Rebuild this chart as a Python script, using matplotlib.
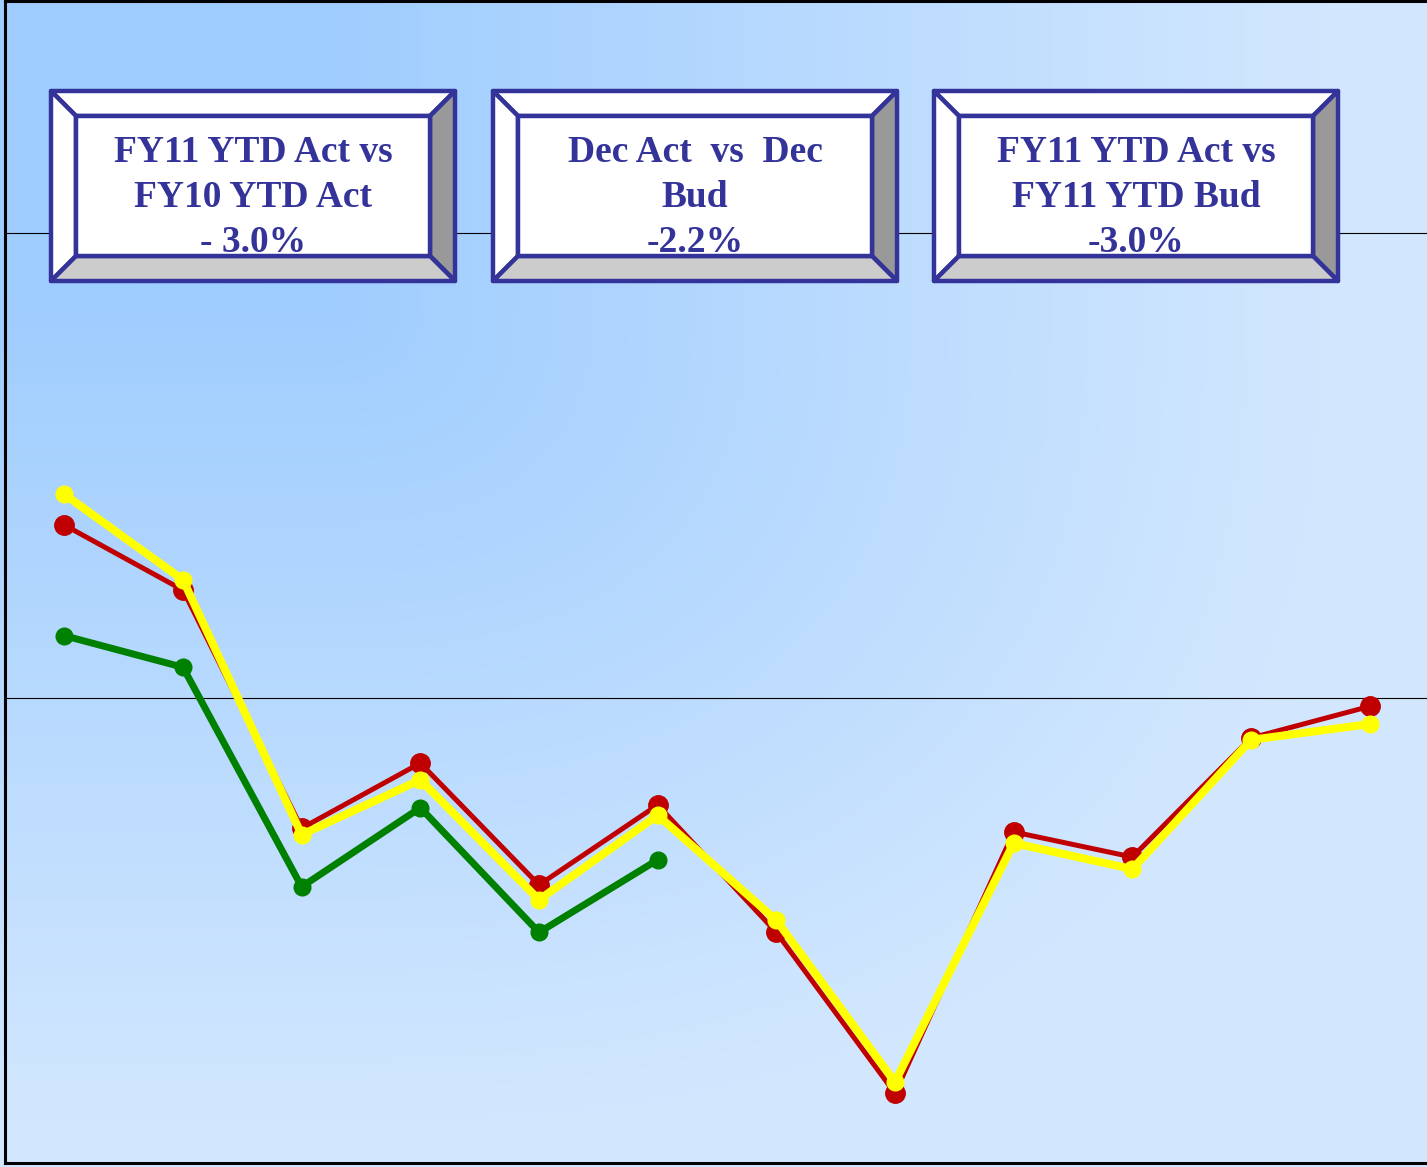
import matplotlib
matplotlib.use("Agg")
import matplotlib.pyplot as plt
import numpy as np
from matplotlib.patches import Polygon

# monthly series (Jul..Jun), chart units
months = ["Jul", "Aug", "Sep", "Oct", "Nov", "Dec",
          "Jan", "Feb", "Mar", "Apr", "May", "Jun"]
fy10_act = [686, 616, 360, 430, 299, 385, 248, 75, 356, 329, 457, 491]
fy11_bud = [719, 627, 353, 412, 283, 374, 261, 87, 344, 316, 455, 472]
fy11_act = [567, 533, 297, 382, 248, 326]

box_texts = [
    ["FY11 YTD Act vs", "FY10 YTD Act", "- 3.0%"],
    ["Dec Act  vs  Dec", "Bud", "-2.2%"],
    ["FY11 YTD Act vs", "FY11 YTD Bud", "-3.0%"],
]

NAVY = "#333399"
W, H = 1427, 1167

fig = plt.figure(figsize=(W / 100, H / 100), dpi=100)

# background: corner gradient, dark blue in the upper left fading out
bg = fig.add_axes([0, 0, 1, 1], zorder=-2)
yy, xx = np.mgrid[0:H:4, 0:W:4]
dx = np.clip(xx - 320, 0, None) / 1000
dy = np.clip(yy - 300, 0, None) / 820
t = np.clip((dx ** 2.5 + dy ** 2.5) ** (1 / 2.5), 0, 1)[..., None]
dark = np.array([159, 205, 255]) / 255
light = np.array([210, 231, 254]) / 255
bg.imshow(dark * (1 - t) + light * t, extent=[0, W, H, 0], aspect="auto",
          interpolation="bilinear")
bg.set_xlim(0, W)
bg.set_ylim(H, 0)
bg.axis("off")

# main plot area
ax = fig.add_axes([5 / W, 4 / H, 1424 / W, 1162.5 / H])
ax.set_facecolor("none")
x = np.arange(len(months))
ax.plot(np.arange(len(fy11_act)), fy11_act, color="#008000", lw=5,
        marker="o", ms=12, zorder=3)
ax.plot(x, fy10_act, color="#C00000", lw=3.6, marker="o", ms=14, zorder=4)
ax.plot(x, fy11_bud, color="#FFFF00", lw=5.8, marker="o", ms=12, zorder=5)

ax.set_xlim(-0.5, 11.5)
ax.set_ylim(0, 1250)
for v in (500, 1000):
    ax.axhline(v, color="black", lw=0.8, zorder=1)
ax.set_xticks([])
ax.set_yticks([])
for side in ("left", "top", "bottom"):
    ax.spines[side].set_linewidth(2.2)
    ax.spines[side].set_color("black")
ax.spines["right"].set_visible(False)

# bevelled callout boxes, laid out in pixel space on a top overlay
ov = fig.add_axes([0, 0, 1, 1], zorder=10)
ov.set_xlim(0, W)
ov.set_ylim(H, 0)
ov.axis("off")

bev = 25
for x0, lines in zip([51, 493, 934], box_texts):
    x1, y0, y1 = x0 + 404, 91, 281
    a, b, c, e = (x0, y0), (x1, y0), (x1, y1), (x0, y1)
    ia, ib, ic, ie = (x0 + bev, y0 + bev), (x1 - bev, y0 + bev), \
        (x1 - bev, y1 - bev), (x0 + bev, y1 - bev)
    faces = [
        ([a, b, ib, ia], "white"),
        ([a, ia, ie, e], "white"),
        ([b, c, ic, ib], "#999999"),
        ([e, ie, ic, c], "#cccccc"),
        ([ia, ib, ic, ie], "white"),
    ]
    for pts, fc in faces:
        ov.add_patch(Polygon(pts, closed=True, facecolor=fc, edgecolor=NAVY,
                             lw=3.2, joinstyle="round"))
    cx = (x0 + x1) / 2
    for k, line in enumerate(lines):
        ov.text(cx, 162 + 45 * k, line, ha="center", va="baseline",
                fontsize=27, fontweight="bold", color=NAVY,
                family=["Liberation Serif", "DejaVu Serif"])

fig.savefig("out.png", dpi=100)
